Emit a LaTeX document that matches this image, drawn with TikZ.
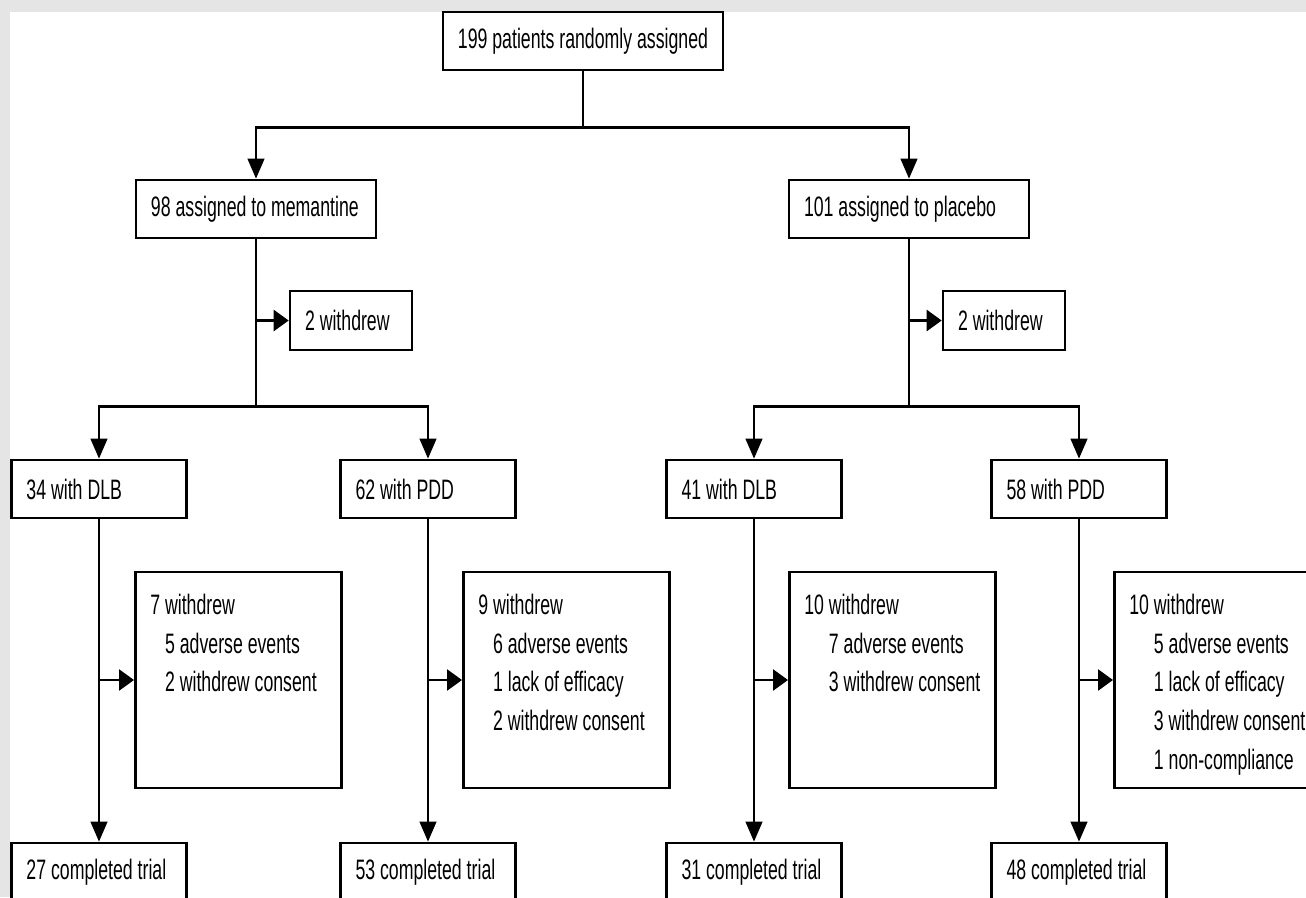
\documentclass[tikz,border=0pt]{standalone}
\usepackage{fontspec}
\setmainfont{Liberation Sans}[FakeStretch=0.63]
\usepackage{tikz}
\usetikzlibrary{arrows.meta,positioning,calc}

\tikzset{
    box/.style={draw, line width=1.5pt, inner xsep=3mm, inner ysep=0pt,
        minimum height=11.6mm, align=flush left, font=\fontsize{16}{22}\selectfont},
    topbox/.style={box, minimum width=55.2mm},
    armbox/.style={box, text width=42mm},
    outbox/.style={box, text width=18.4mm, minimum height=11.8mm},
    groupbox/.style={box, text width=29mm},
    lossbox/.style={draw, line width=1.5pt, inner xsep=3mm, inner ysep=4.4mm,
        anchor=west, font=\fontsize{16}{22}\selectfont},
    link/.style={line width=1.5pt},
    down/.style={link, -{Triangle[length=4mm, width=3.3mm]}},
    side/.style={link, -{Triangle[length=3mm, width=4.2mm]}}
}
\newcommand{\losstext}[1]{\parbox[t][34.4mm][t]{35.2mm}{#1}}

\begin{document}
\begin{tikzpicture}[x=0.2mm, y=-0.2mm]
    \useasboundingbox (0,0) rectangle (1306,897);
    \clip (0,0) rectangle (1306,897);
    % Page background
    \fill[black!10] (0,0) rectangle (1306,897);
    \fill[white] (10,12) rectangle (1320,910);

    % Randomisation
    \node[topbox] (top) at (583,41) {199 patients randomly assigned};

    % Memantine arm
    \node[armbox] (mem) at (256,209) {98 assigned to memantine};
    \node[outbox] (memout) at (351,320.5) {2 withdrew};
    \node[groupbox] (memdlb) at (99,489) {34 with DLB};
    \node[groupbox] (mempdd) at (428,489) {62 with PDD};
    \node[lossbox] (memdlbloss) at (134,680) {\losstext{7 withdrew\\
        \hphantom{7\ }5 adverse events\\
        \hphantom{7\ }2 withdrew consent}};
    \node[lossbox] (mempddloss) at (462,680) {\losstext{9 withdrew\\
        \hphantom{9\ }6 adverse events\\
        \hphantom{9\ }1 lack of efficacy\\
        \hphantom{9\ }2 withdrew consent}};
    \node[groupbox] (memdlbdone) at (99,872) {27 completed trial};
    \node[groupbox] (mempdddone) at (428,872) {53 completed trial};

    % Placebo arm
    \node[armbox] (plac) at (909,209) {101 assigned to placebo};
    \node[outbox] (placout) at (1004,320.5) {2 withdrew};
    \node[groupbox] (placdlb) at (754,489) {41 with DLB};
    \node[groupbox] (placpdd) at (1079,489) {58 with PDD};
    \node[lossbox] (placdlbloss) at (788,680) {\losstext{10 withdrew\\
        \hphantom{10\ }7 adverse events\\
        \hphantom{10\ }3 withdrew consent}};
    \node[lossbox] (placpddloss) at (1113,680) {\losstext{10 withdrew\\
        \hphantom{10\ }5 adverse events\\
        \hphantom{10\ }1 lack of efficacy\\
        \hphantom{10\ }3 withdrew consent\\
        \hphantom{10\ }1 non-compliance}};
    \node[groupbox] (placdlbdone) at (754,872) {31 completed trial};
    \node[groupbox] (placpdddone) at (1079,872) {48 completed trial};

    % Split into arms
    \draw[down] (top.south) -- ++(0,56) -| (mem.north);
    \draw[down] (top.south) -- ++(0,56) -| (plac.north);

    % Split into DLB and PDD
    \draw[down] (mem.south) -- ++(0,167) -| (memdlb.north);
    \draw[down] (mem.south) -- ++(0,167) -| (mempdd.north);
    \draw[side] (mem.south |- memout.west) -- (memout.west);
    \draw[down] (plac.south) -- ++(0,167) -| (placdlb.north);
    \draw[down] (plac.south) -- ++(0,167) -| (placpdd.north);
    \draw[side] (plac.south |- placout.west) -- (placout.west);

    % Follow-up
    \draw[down] (memdlb.south) -- (memdlbdone.north);
    \draw[side] (memdlb.south |- memdlbloss.west) -- (memdlbloss.west);
    \draw[down] (mempdd.south) -- (mempdddone.north);
    \draw[side] (mempdd.south |- mempddloss.west) -- (mempddloss.west);
    \draw[down] (placdlb.south) -- (placdlbdone.north);
    \draw[side] (placdlb.south |- placdlbloss.west) -- (placdlbloss.west);
    \draw[down] (placpdd.south) -- (placpdddone.north);
    \draw[side] (placpdd.south |- placpddloss.west) -- (placpddloss.west);
\end{tikzpicture}
\end{document}
